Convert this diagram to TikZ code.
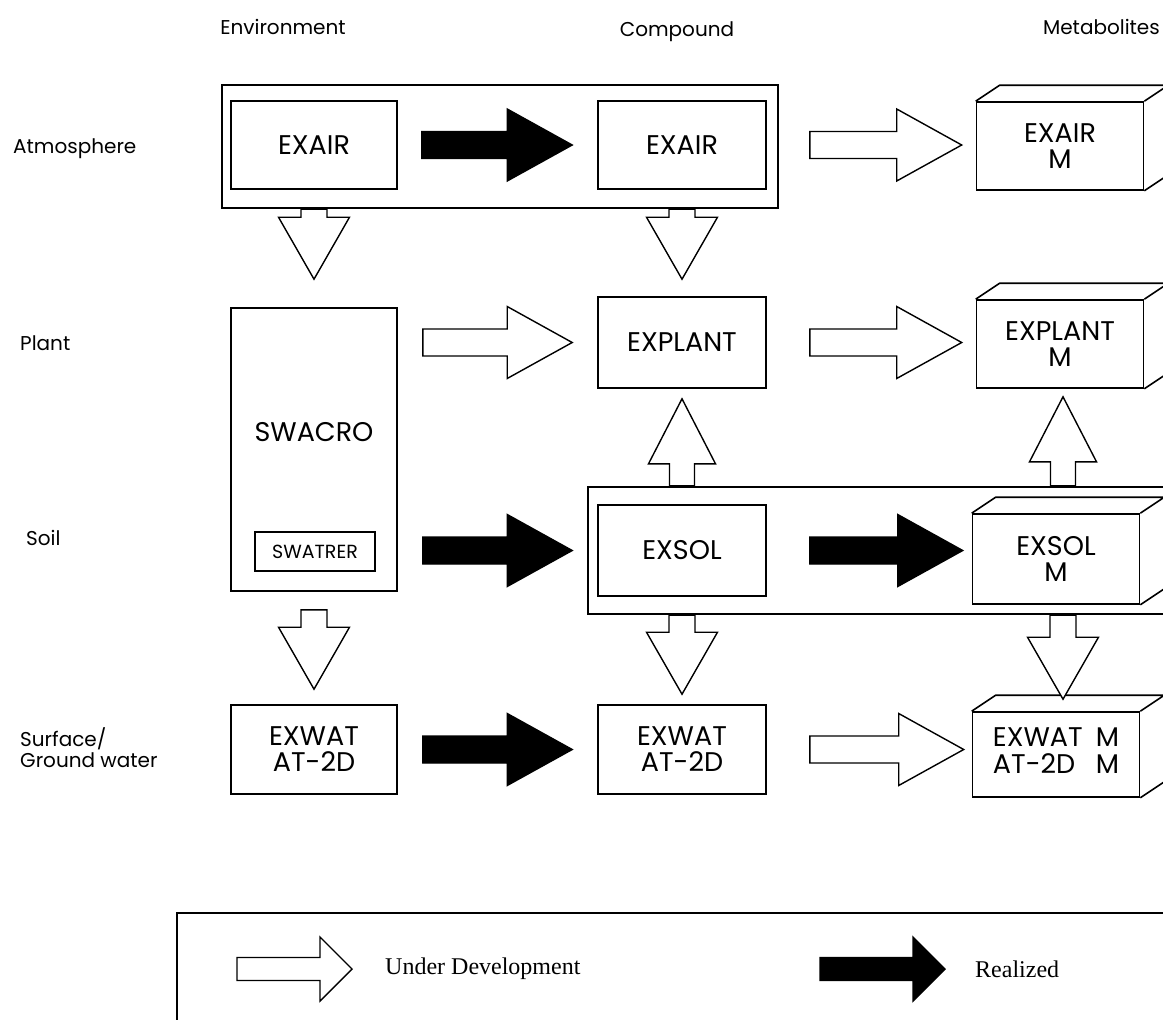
\documentclass[tikz,border=0pt]{standalone}
\usepackage{fontspec}
\setsansfont{Poppins}
\newfontfamily\legserif{Liberation Serif}
\usetikzlibrary{calc}
\newcommand\lblfont{\sffamily\fontsize{27}{26}\selectfont}
\newcommand\smallfont{\sffamily\fontsize{20}{21}\selectfont}
\newcommand\legfont{\legserif\fontsize{24}{26}\selectfont}
% horizontal block arrow: style, start, tip
\newcommand\RArrow[3]{\path[#1] let \p1=#2, \p2=#3 in
  (\x1,\y1+13.5pt) -- (\x2-65pt,\y1+13.5pt) -- (\x2-65pt,\y1+36pt) -- (\x2,\y1)
  -- (\x2-65pt,\y1-36pt) -- (\x2-65pt,\y1-13.5pt) -- (\x1,\y1-13.5pt) -- cycle;}
% downward block arrow: style, start (top of stub), tip
\newcommand\DArrow[3]{\path[#1] let \p1=#2, \p2=#3 in
  (\x1-13pt,\y1) -- (\x1-13pt,\y2+62pt) -- (\x1-35.5pt,\y2+62pt) -- (\x1,\y2)
  -- (\x1+35.5pt,\y2+62pt) -- (\x1+13pt,\y2+62pt) -- (\x1+13pt,\y1) -- cycle;}
% upward block arrow: style, start (bottom of stub), tip
\newcommand\UArrow[3]{\path[#1] let \p1=#2, \p2=#3 in
  (\x1-12.5pt,\y1) -- (\x1-12.5pt,\y2-65pt) -- (\x1-33.5pt,\y2-65pt) -- (\x1,\y2)
  -- (\x1+33.5pt,\y2-65pt) -- (\x1+12.5pt,\y2-65pt) -- (\x1+12.5pt,\y1) -- cycle;}
% legend arrow
\newcommand\LArrow[3]{\path[#1] let \p1=#2, \p2=#3 in
  (\x1,\y1+11.5pt) -- (\x2-32pt,\y1+11.5pt) -- (\x2-32pt,\y1+32pt) -- (\x2,\y1)
  -- (\x2-32pt,\y1-32pt) -- (\x2-32pt,\y1-11.5pt) -- (\x1,\y1-11.5pt) -- cycle;}
% 3D box faces on a front node
\newcommand\cuboid[1]{%
  \draw[cubeline] (#1.north west) -- ++(24,-16) -- ($(#1.north east)+(24,-16)$) -- (#1.north east);
  \draw[cubeline] ($(#1.north east)+(24,-16)$) -- ($(#1.south east)+(24,-16)$) -- (#1.south east);}
\begin{document}
\begin{tikzpicture}[x=1pt,y=-1pt,
  modbox/.style={draw,line width=1.6pt,minimum width=166pt,minimum height=88pt,
    inner sep=0pt,font=\lblfont,align=center},
  cmpbox/.style={modbox,minimum width=168pt},
  metbox/.style={modbox,minimum width=167pt},
  cubeline/.style={line width=1.6pt,line join=round},
  groupbox/.style={draw,line width=2.2pt,inner sep=0pt},
  devarrow/.style={draw,line width=1.4pt,fill=white,line join=miter},
  realarrow/.style={draw,line width=1.4pt,fill=black,line join=miter},
  hdr/.style={font=\smallfont,inner sep=0pt},
  rowlbl/.style={font=\smallfont,inner sep=0pt,anchor=west,align=left},
  legline/.style={line width=2pt}]
\useasboundingbox (0,0) rectangle (1163,1020);
\clip (0,0) rectangle (1163,1020);

% headers
\node[hdr] (hEnv) at (283,27) {Environment};
\node[hdr] (hCmp) at (677,32) {Compound};
\node[hdr,anchor=east] (hMet) at (1160,27) {Metabolites};

% row labels
\node[rowlbl] (rAtm) at (13,149) {Atmosphere};
\node[rowlbl] (rPla) at (20,343) {Plant};
\node[rowlbl] (rSoi) at (26,538) {Soil};
\node[rowlbl] (rWat) at (20,748) {Surface/\\Ground water};

% group boxes
\node[groupbox,minimum width=556pt,minimum height=123pt] (atmBox) at (500,146.5) {};
\node[groupbox,minimum width=612pt,minimum height=127pt] (soilBox) at (894,550.5) {};

% environment column
\node[modbox] (envAir) at (314,145) {EXAIR};
\node[modbox,minimum height=283pt] (swacro) at (314,449.5) {};
\node[font=\lblfont,inner sep=0pt] (swacroT) at (314,432) {SWACRO};
\node[draw,line width=1.4pt,minimum width=120pt,minimum height=39pt,inner sep=0pt,
  font=\sffamily\fontsize{19}{20}\selectfont] (swatrer) at (315,551.5) {SWATRER};
\node[modbox,minimum height=89pt] (envWat) at (314,749.5) {EXWAT\\AT-2D};

% compound column
\node[cmpbox] (cmpAir) at (682,145) {EXAIR};
\node[cmpbox,minimum height=91pt] (explant) at (682,342.5) {EXPLANT};
\node[cmpbox,minimum height=91pt] (exsol) at (682,550.5) {EXSOL};
\node[cmpbox,minimum height=89pt] (cmpWat) at (682,749.5) {EXWAT\\AT-2D};

% metabolite column (3D boxes)
\node[metbox,fill=white] (metAir) at (1060,146) {EXAIR\\M};
\cuboid{metAir}
\node[metbox,fill=white] (metPlant) at (1060,344) {EXPLANT\\M};
\cuboid{metPlant}
\node[metbox,fill=white,minimum height=90pt] (metSoil) at (1056,559) {EXSOL\\M};
\cuboid{metSoil}
\node[metbox,fill=white,minimum height=85pt] (metWat) at (1056,754.5)
  {\begin{tabular}{@{}l@{\hspace{13pt}}l@{}}EXWAT & M\\[-1pt] AT-2D & M\end{tabular}};
\cuboid{metWat}

% horizontal arrows
\RArrow{realarrow}{($(envAir.east)+(24,0)$)}{($(cmpAir.west)+(-25,0)$)}
\RArrow{devarrow}{($(cmpAir.east)+(43,0)$)}{($(metAir.west)+(-14,0)$)}
\RArrow{devarrow}{($(swacro.east |- explant)+(25,0)$)}{($(explant.west)+(-25,0)$)}
\RArrow{devarrow}{($(explant.east)+(43,0)$)}{($(metPlant.west)+(-14,0)$)}
\RArrow{realarrow}{($(swacro.east |- exsol)+(25,0)$)}{($(exsol.west)+(-25,0)$)}
\RArrow{realarrow}{($(exsol.east)+(43,0)$)}{($(metSoil.west)+(-9,0)$)}
\RArrow{realarrow}{($(envWat.east)+(25,0)$)}{($(cmpWat.west)+(-25,0)$)}
\RArrow{devarrow}{($(cmpWat.east)+(43,0)$)}{($(metWat.west)+(-8,0)$)}

% vertical arrows
\DArrow{devarrow}{(atmBox.south -| envAir)}{($(swacro.north)+(0,-28)$)}
\DArrow{devarrow}{(atmBox.south -| cmpAir)}{($(explant.north)+(0,-17)$)}
\UArrow{devarrow}{(soilBox.north -| explant)}{($(explant.south)+(0,10)$)}
\UArrow{devarrow}{($(soilBox.north -| metPlant)+(3,0)$)}{($(metPlant.south)+(3,8)$)}
\DArrow{devarrow}{($(swacro.south)+(0,18)$)}{($(envWat.north)+(0,-15)$)}
\DArrow{devarrow}{(soilBox.south -| exsol)}{($(cmpWat.north)+(0,-10)$)}
\DArrow{devarrow}{($(soilBox.south -| metWat)+(7,0)$)}{($(metWat.north)+(7,-12)$)}

% legend
\coordinate (legBL) at (177,1030);
\coordinate (legTL) at (177,913);
\coordinate (legTR) at (1200,913);
\draw[legline] (legBL) -- (legTL) -- (legTR);
\coordinate (lgDevS) at (237,969);
\coordinate (lgDevT) at (352,969);
\coordinate (lgRealS) at (820,969);
\coordinate (lgRealT) at (945,969);
\LArrow{devarrow}{(lgDevS)}{(lgDevT)}
\LArrow{realarrow}{(lgRealS)}{(lgRealT)}
\node[font=\legfont,anchor=west,inner sep=0pt] (lgDevTxt) at (385,969) {Under Development};
\node[font=\legfont,anchor=west,inner sep=0pt] (lgRealTxt) at (975,969) {Realized};
\end{tikzpicture}
\end{document}
